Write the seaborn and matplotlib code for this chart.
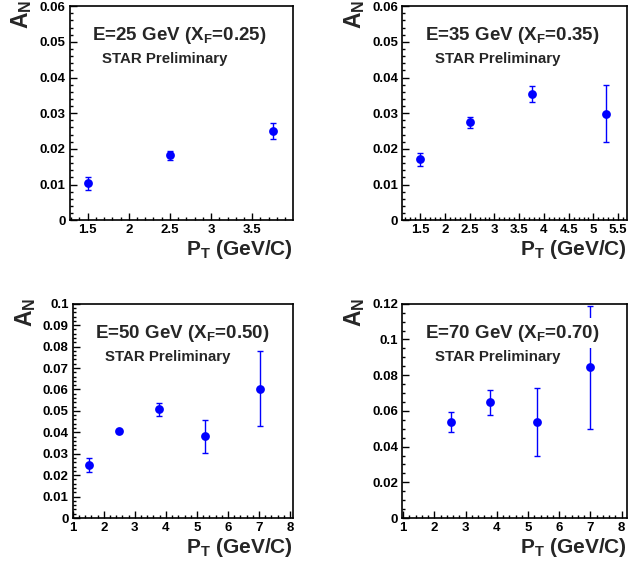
import matplotlib
matplotlib.use("Agg")
import matplotlib.pyplot as plt
import seaborn as sns
import pandas as pd
from matplotlib.ticker import MultipleLocator, FuncFormatter

sns.set_theme(style="ticks")
plt.rcParams['font.family'] = ['Liberation Sans', 'DejaVu Sans']
plt.rcParams['font.weight'] = 'bold'
plt.rcParams['mathtext.fontset'] = 'custom'
plt.rcParams['mathtext.rm'] = 'Liberation Sans:bold'
plt.rcParams['mathtext.it'] = 'Liberation Sans:bold'
plt.rcParams['mathtext.bf'] = 'Liberation Sans:bold'

# ---- data ----
titles = ["E=25 GeV (X$_F$=0.25)", "E=35 GeV (X$_F$=0.35)",
          "E=50 GeV (X$_F$=0.50)", "E=70 GeV (X$_F$=0.70)"]
pt_25 = [1.5, 2.5, 3.75]
an_25 = [0.0103, 0.0182, 0.0250]
err_25 = [0.0019, 0.0013, 0.0022]

pt_35 = [1.5, 2.5, 3.75, 5.25]
an_35 = [0.0171, 0.0274, 0.0354, 0.0298]
err_35 = [0.0018, 0.0015, 0.0022, 0.0080]

pt_50 = [1.52, 2.5, 3.77, 5.27, 7.02]
an_50 = [0.0246, 0.0404, 0.0507, 0.0381, 0.0604]
err_50 = [0.0033, 0.0007, 0.0030, 0.0076, 0.0176]

pt_70 = [2.52, 3.78, 5.28, 7.0]
an_70 = [0.0537, 0.0648, 0.0540, 0.0843]
err_70 = [0.0058, 0.0069, 0.0190, 0.0346]

panels = [
    dict(x=pt_25, y=an_25, e=err_25, xlim=(1.285, 3.995), ylim=(0, 0.06),
         xmaj=0.5, xmin=0.1, ymaj=0.01, ymin=0.002,
         rect=[0.111, 0.611, 0.354, 0.378]),
    dict(x=pt_35, y=an_35, e=err_35, xlim=(1.14, 5.67), ylim=(0, 0.06),
         xmaj=0.5, xmin=0.1, ymaj=0.01, ymin=0.002,
         rect=[0.6386, 0.611, 0.356, 0.378]),
    dict(x=pt_50, y=an_50, e=err_50, xlim=(1.0, 8.1), ylim=(0, 0.1),
         xmaj=1, xmin=0.2, ymaj=0.01, ymin=0.002,
         rect=[0.1154, 0.0848, 0.350, 0.3786]),
    dict(x=pt_70, y=an_70, e=err_70, xlim=(0.97, 8.16), ylim=(0, 0.12),
         xmaj=1, xmin=0.2, ymaj=0.02, ymin=0.005,
         rect=[0.6386, 0.0848, 0.356, 0.3786]),
]

fig = plt.figure(figsize=(6.3, 5.66), dpi=100)
blue = "#0000ff"

def fmt(v, pos):
    return "%g" % round(v, 6)

for p, title in zip(panels, titles):
    ax = fig.add_axes(p["rect"])
    df = pd.DataFrame({"pt": p["x"], "an": p["y"], "err": p["e"]})
    ax.errorbar(df["pt"], df["an"], yerr=df["err"], fmt="none", ecolor=blue,
                elinewidth=1.0, capsize=2, capthick=1.0, zorder=2)
    sns.scatterplot(data=df, x="pt", y="an", ax=ax, color=blue, s=40,
                    edgecolor=blue, linewidth=0, zorder=3)
    ax.set_xlim(*p["xlim"])
    ax.set_ylim(*p["ylim"])
    ax.xaxis.set_major_locator(MultipleLocator(p["xmaj"]))
    ax.xaxis.set_minor_locator(MultipleLocator(p["xmin"]))
    ax.yaxis.set_major_locator(MultipleLocator(p["ymaj"]))
    ax.yaxis.set_minor_locator(MultipleLocator(p["ymin"]))
    ax.xaxis.set_major_formatter(FuncFormatter(fmt))
    ax.yaxis.set_major_formatter(FuncFormatter(fmt))
    ax.tick_params(which="both", direction="in", top=False, right=False,
                   labelsize=9.5, width=1.0, colors="black")
    ax.tick_params(which="major", length=5, pad=3)
    ax.tick_params(which="minor", length=2.5)
    for lab in ax.get_xticklabels() + ax.get_yticklabels():
        lab.set_fontweight("bold")
    for sp in ax.spines.values():
        sp.set_linewidth(1.2)
        sp.set_color("black")
        sp.set_visible(True)
    ax.set_xlabel("")
    ax.set_ylabel("")
    ax.text(1.0, -0.085, "P$_T$ (GeV/C)", transform=ax.transAxes, ha="right",
            va="top", fontsize=15, fontweight="bold")
    ax.text(-0.215, 1.03, "A$_N$", transform=ax.transAxes, ha="center",
            va="top", rotation=90, fontsize=16.5, fontweight="bold")
    ax.text(0.10, 0.842, title, transform=ax.transAxes, ha="left",
            va="baseline", fontsize=13.5, fontweight="bold", zorder=5,
            bbox=dict(facecolor="white", edgecolor="none", pad=3.0))
    ax.text(0.145, 0.735, "STAR Preliminary", transform=ax.transAxes,
            ha="left", va="baseline", fontsize=10.8, fontweight="bold", zorder=6)
    ax.set_facecolor("white")

fig.savefig("out.png", dpi=100, facecolor="white")
